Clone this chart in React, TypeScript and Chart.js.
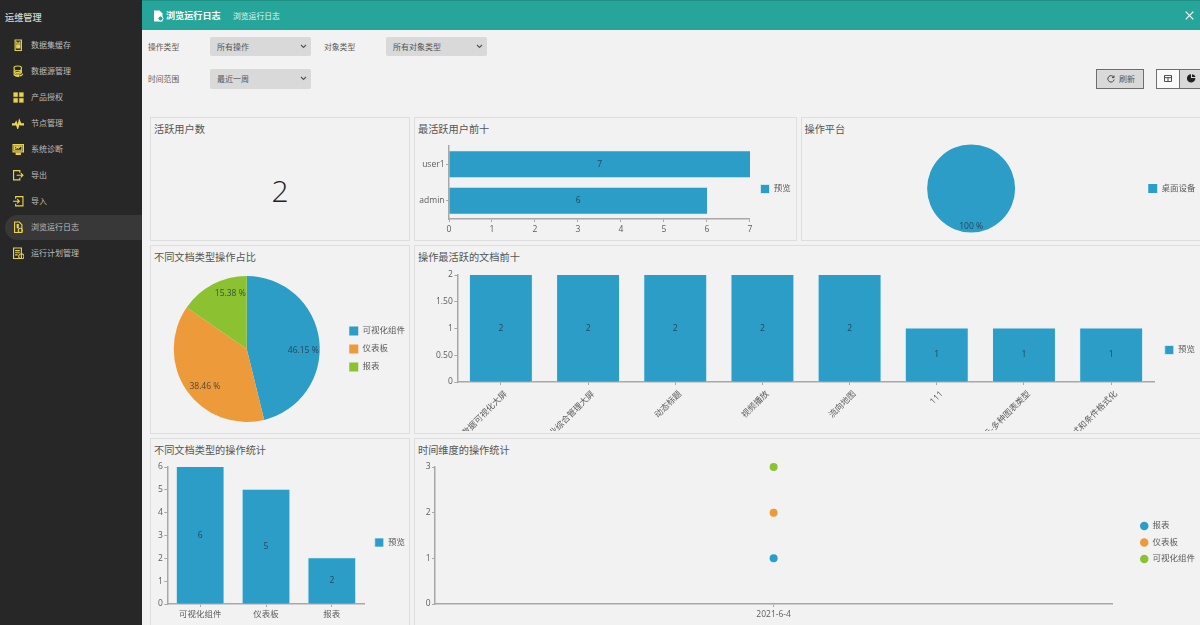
import React, { useRef, useEffect } from 'react';
import Chart from 'chart.js/auto';

const FONT = "'Open Sans','Noto Sans CJK SC',sans-serif";
const BLUE = '#2b9dc7';
const ORANGE = '#ed9a3a';
const GREEN = '#8cc232';
const TEXT = '#5c5c5c';
const AXIS = '#a8a8a8';

// 菜单
const menuItems = ['数据集缓存', '数据源管理', '产品授权', '节点管理', '系统诊断', '导出', '导入', '浏览运行日志', '运行计划管理'];
const menuIcons = [
    'M6 2h12v20H6zM9 5v3h6V5M9 11h2v2H9zM13 11h2v2h-2zM9 15h2v2H9zM13 15h2v2h-2z',
    'M4 5c0-4 14-4 14 0v3c0 4-14 4-14 0zM4 12c4 3 10 3 14 0v3c-4 3-10 3-14 0zM4 18c3 2 6 3 9 2v2c-4 0-7-1-9-3zM15 19l2 2 4-4',
    'M3 3h8v8H3zM14 3h8v8h-8zM3 14h8v8H3zM14 14h8v8h-8z',
    'M1 13h5l2-4 3 9 3-12 3 7h6v2h-7l-2-3-3 10-3-9-1 2H1z',
    'M2 3h20v14H2zM5 6v8h14V6zM7 11l3-3 2 2 3-3M8 20h8v2H8z',
    'M15 7V3H3v18h12v-4M9 12h12M17 8l4 4-4 4',
    'M7 7V3h14v18H7v-4M2 12h11M10 8l4 4-4 4',
    'M5 2h9l5 5v15H5zM10 7v2h2V7zM10 11v2h2v-2zM16 14a4 4 0 1 0 .01 0z',
    'M3 2h15v20H3zM6 7h9M6 11h9M6 15h5M18 13a5 5 0 1 0 .01 0z',
];

// 最活跃用户前十
const userNames = ['user1', 'admin'];
const userCounts = [7, 6];
// 操作平台
const platformNames = ['桌面设备'];
const platformCounts = [1];
const platformLabels = ['100 %'];
// 不同文档类型操作占比 / 操作统计
const docTypes = ['可视化组件', '仪表板', '报表'];
const docTypeCounts = [6, 5, 2];
const docTypeLabels = ['46.15 %', '38.46 %', '15.38 %'];
// 操作最活跃的文档前十
const docNames = ['大数据可视化大屏', '企业综合管理大屏', '动态标题', '视频播放', '流向地图', '111', '展示-多种图表类型', '样式和条件格式化'];
const docCounts = [2, 2, 2, 2, 2, 1, 1, 1];
// 时间维度的操作统计
const dates = ['2021-6-4'];
const reportByDay = [1];
const dashboardByDay = [2];
const widgetByDay = [3];

const tickFont = { family: FONT, size: 8.5 };

// 柱子和饼图扇区上的数值标签
const valueLabels = (labels: string[] | null, ratio = 0.78, nudge: number[][] = []) => ({
    id: 'valueLabels',
    afterDatasetsDraw(chart: any) {
        const { ctx } = chart;
        ctx.save();
        ctx.font = `8.5px ${FONT}`;
        ctx.fillStyle = 'rgba(35,50,60,0.8)';
        ctx.textAlign = 'center';
        ctx.textBaseline = 'middle';
        chart.getSortedVisibleDatasetMetas().forEach((meta: any) => {
            meta.data.forEach((el: any, i: number) => {
                const text = labels ? labels[i] : String(chart.data.datasets[meta.index].data[i]);
                if (meta.type === 'pie') {
                    const a = el.getProps(['x', 'y', 'startAngle', 'endAngle', 'outerRadius']);
                    const mid = (a.startAngle + a.endAngle) / 2;
                    const [dx, dy] = nudge[i] || [0, 0];
                    ctx.fillText(text, a.x + Math.cos(mid) * a.outerRadius * ratio + dx, a.y + Math.sin(mid) * a.outerRadius * ratio + dy);
                } else {
                    const b = el.getProps(['x', 'y', 'base']);
                    if (chart.options.indexAxis === 'y') ctx.fillText(text, (b.x + b.base) / 2, b.y);
                    else ctx.fillText(text, b.x, (b.y + b.base) / 2);
                }
            });
        });
        ctx.restore();
    },
});

// x 轴标签的裁剪区域放到画布底部，倾斜的长标签才能显示完整
const longTicks = {
    id: 'longTicks',
    afterLayout(chart: any) {
        chart.scales.x.bottom = chart.height;
    },
};

const axisBase = (size: number, isX: boolean) => ({
    grid: { drawOnChartArea: false, color: AXIS, tickLength: 3, offset: false },
    border: { color: AXIS, width: 1.5 },
    ticks: { font: tickFont, color: TEXT, padding: isX ? 2 : 1.5 },
    afterFit: (s: any) => {
        if (isX) s.height = size;
        else s.width = size;
    },
});

const legendOpts = (padding: number, extra = {}) => ({
    display: true,
    position: 'right',
    labels: { font: tickFont, color: TEXT, boxWidth: 9, boxHeight: 9, padding, ...extra },
});

const barOpts = {
    backgroundColor: BLUE,
    borderColor: 'rgba(225,240,247,0.75)',
    borderWidth: 1,
    inflateAmount: 1,
    barPercentage: 0.71,
    categoryPercentage: 1,
};

function ChartBox({ left, top, width, height, config }: any) {
    const ref = useRef<HTMLCanvasElement>(null);
    useEffect(() => {
        const chart = new Chart(ref.current!, config);
        return () => chart.destroy();
    }, []);
    return <canvas ref={ref} width={width} height={height} style={{ position: 'absolute', left, top, width, height }} />;
}

const common = { responsive: false, animation: false, devicePixelRatio: 1 };

const usersConfig: any = {
    type: 'bar',
    data: { labels: userNames, datasets: [{ label: '预览', data: userCounts, ...barOpts }] },
    options: {
        ...common,
        indexAxis: 'y',
        layout: { padding: { top: 28, bottom: 9, right: 0.25 } },
        scales: {
            x: { ...axisBase(13, true), min: 0, max: 7, ticks: { ...axisBase(13, true).ticks, stepSize: 1 } },
            y: axisBase(35, false),
        },
        plugins: { legend: legendOpts(10.5), tooltip: { enabled: false } },
    },
    plugins: [valueLabels(null)],
};

const platformConfig: any = {
    type: 'pie',
    data: { labels: platformNames, datasets: [{ data: platformCounts, backgroundColor: [BLUE], borderWidth: 0 }] },
    options: {
        ...common,
        layout: { padding: { left: 2, top: 27.5, bottom: 8.5, right: 0.5 } },
        plugins: { legend: legendOpts(8), tooltip: { enabled: false } },
    },
    plugins: [valueLabels(platformLabels, 0.86)],
};

const shareConfig: any = {
    type: 'pie',
    data: { labels: docTypes, datasets: [{ data: docTypeCounts, backgroundColor: [BLUE, ORANGE, GREEN], borderWidth: 0 }] },
    options: {
        ...common,
        layout: { padding: { left: 3.2, top: 31, bottom: 11 } },
        plugins: { legend: legendOpts(9), tooltip: { enabled: false } },
    },
    // 标签不完全在扇区角平分线上
    plugins: [valueLabels(docTypeLabels, 0.78, [[0, 8], [5, 5], [10, -5]])],
};

const docsConfig: any = {
    type: 'bar',
    data: { labels: docNames, datasets: [{ label: '预览', data: docCounts, ...barOpts }] },
    options: {
        ...common,
        layout: { padding: { top: 29, bottom: 6 } },
        scales: {
            x: {
                ...axisBase(43, true),
                ticks: { ...axisBase(43, true).ticks, padding: 4, autoSkip: false, minRotation: 45, maxRotation: 45, labelOffset: 5 },
            },
            y: {
                ...axisBase(43.3, false),
                min: 0,
                max: 2,
                ticks: { ...axisBase(43.3, false).ticks, stepSize: 0.5, callback: (v: number) => (v % 1 === 0 ? String(v) : v.toFixed(2)) },
            },
        },
        plugins: { legend: legendOpts(10), tooltip: { enabled: false } },
    },
    plugins: [valueLabels(null), longTicks],
};

const typeCountConfig: any = {
    type: 'bar',
    data: { labels: docTypes, datasets: [{ label: '预览', data: docTypeCounts, ...barOpts }] },
    options: {
        ...common,
        layout: { padding: { top: 29, bottom: 7 } },
        scales: {
            x: axisBase(14, true),
            y: { ...axisBase(17.3, false), min: 0, max: 6, ticks: { ...axisBase(17.3, false).ticks, stepSize: 1 } },
        },
        plugins: { legend: legendOpts(10), tooltip: { enabled: false } },
    },
    plugins: [valueLabels(null)],
};

const dot = (label: string, data: number[], color: string) => ({
    label,
    data,
    showLine: false,
    clip: false,
    backgroundColor: color,
    borderColor: color,
    pointRadius: 4,
    pointBorderWidth: 0,
});

const timeConfig: any = {
    type: 'line',
    data: {
        labels: dates,
        datasets: [dot('报表', reportByDay, BLUE), dot('仪表板', dashboardByDay, ORANGE), dot('可视化组件', widgetByDay, GREEN)],
    },
    options: {
        ...common,
        layout: { padding: { top: 29, bottom: 7 } },
        scales: {
            x: { ...axisBase(14, true), offset: true },
            y: { ...axisBase(21, false), min: 0, max: 3, ticks: { ...axisBase(21, false).ticks, stepSize: 1 } },
            // 撑开坐标轴和图例之间的空隙
            y2: { position: 'right', grid: { display: false }, border: { display: false }, ticks: { display: false }, afterFit: (s: any) => { s.width = 20; } },
        },
        plugins: { legend: legendOpts(8, { usePointStyle: true, boxWidth: 8, boxHeight: 6 }), tooltip: { enabled: false } },
    },
};

const abs = (left: number, top: number, extra: any = {}): any => ({ position: 'absolute', left, top, whiteSpace: 'nowrap', ...extra });

function Card({ left, top, width, height, title }: any) {
    return (
        <>
            <div style={abs(left, top, { width, height, boxSizing: 'border-box', border: '1.5px solid #dedede' })} />
            <div style={abs(left + 4, top + 6, { fontSize: 10.2, lineHeight: '13px', color: '#555' })}>{title}</div>
        </>
    );
}

function Dropdown({ left, top, width, text }: any) {
    return (
        <div style={abs(left, top, { width, height: 19.5, background: '#d9d9d9', borderRadius: 2 })}>
            <span style={abs(7, 0, { fontSize: 8, lineHeight: '19.5px', color: '#555' })}>{text}</span>
            <svg width="7" height="5" viewBox="0 0 7 5" style={abs(width - 11, 7)}>
                <path d="M1 1l2.5 2.5L6 1" fill="none" stroke="#555" strokeWidth="1.1" />
            </svg>
        </div>
    );
}

export default function App() {
    return (
        <div style={{ position: 'relative', width: 1200, height: 625, overflow: 'hidden', background: '#f2f2f2', fontFamily: FONT }}>
            <style>{'body{margin:0}'}</style>

            {/* 左侧菜单 */}
            <div style={abs(0, 0, { width: 142, height: 625, background: '#272727' })} />
            <div style={abs(5, 12, { fontSize: 9.2, lineHeight: '12px', fontWeight: 500, color: '#d6d6d6' })}>运维管理</div>
            <div style={abs(5, 214.5, { width: 137, height: 25.5, background: '#383838', borderRadius: '13px 0 0 13px' })} />
            {menuItems.map((name, i) => (
                <React.Fragment key={name}>
                    <svg width="12.5" height="12.5" viewBox="0 0 24 24" style={abs(11.5, 38.5 + i * 26)}>
                        <path d={menuIcons[i]} fill={i === 2 || i === 3 ? '#e8d44f' : 'none'} stroke="#e8d44f" strokeWidth={i === 2 ? 0.5 : 2.2} />
                    </svg>
                    <div style={abs(31, 39 + i * 26, { fontSize: 8, lineHeight: '12px', color: '#bdbdbd' })}>{name}</div>
                </React.Fragment>
            ))}

            {/* 顶部标题栏 */}
            <div style={abs(142, 0, { width: 1058, height: 30, background: '#26a69a', borderTop: '1px solid #1f8f84', boxSizing: 'border-box' })} />
            <svg width="12" height="12" viewBox="0 0 24 24" style={abs(152, 9.5)}>
                <path d="M4 1h11l6 6v16H4z" fill="#fff" />
                <circle cx="17" cy="17" r="5" fill="#26a69a" stroke="#fff" strokeWidth="2" />
            </svg>
            <div style={abs(166, 10, { fontSize: 9.1, lineHeight: '12px', fontWeight: 700, color: '#fff' })}>浏览运行日志</div>
            <div style={abs(233, 10, { fontSize: 7.8, lineHeight: '12px', color: '#e4f5f3' })}>浏览运行日志</div>
            <svg width="9" height="9" viewBox="0 0 9 9" style={abs(1185, 11)}>
                <path d="M.7.7l7.6 7.6M8.3.7L.7 8.3" stroke="#fff" strokeWidth="1.2" />
            </svg>

            {/* 筛选条件 */}
            <div style={abs(148, 41, { fontSize: 7.8, lineHeight: '12px', color: '#5c5c5c' })}>操作类型</div>
            <Dropdown left={210} top={36.5} width={101} text="所有操作" />
            <div style={abs(324, 41, { fontSize: 7.8, lineHeight: '12px', color: '#5c5c5c' })}>对象类型</div>
            <Dropdown left={386} top={36.5} width={101} text="所有对象类型" />
            <div style={abs(148, 73, { fontSize: 7.8, lineHeight: '12px', color: '#5c5c5c' })}>时间范围</div>
            <Dropdown left={210} top={69} width={101} text="最近一周" />

            {/* 刷新和视图切换 */}
            <div style={abs(1096, 69, { width: 48, height: 20, boxSizing: 'border-box', background: '#d9d9d9', border: '1px solid #6e6e6e' })}>
                <span style={abs(22, 0, { fontSize: 8, lineHeight: '18px', color: '#555' })}>刷新</span>
                <svg width="8" height="8" viewBox="0 0 8 8" style={abs(9.5, 5)}>
                    <path d="M6.8 2.2A3.2 3.2 0 1 0 7.2 4.5M7 .6v2H5" fill="none" stroke="#444" strokeWidth="1" />
                </svg>
            </div>
            <div style={abs(1156, 69, { width: 46, height: 20, boxSizing: 'border-box', background: '#d9d9d9', border: '1px solid #6e6e6e' })}>
                <div style={abs(0, 0, { width: 22, height: 18, background: '#fafafa', borderRight: '1px solid #6e6e6e' })} />
                <svg width="8" height="7" viewBox="0 0 9 8" style={abs(7, 4.5)}>
                    <path d="M.5.5h8v7h-8zM.5 3h8M4.5 3v4.5" fill="none" stroke="#333" strokeWidth="1" />
                </svg>
                <svg width="9" height="9" viewBox="0 0 9 9" style={abs(29.5, 4)}>
                    <path d="M4 .2V4h4.3A4.2 4.2 0 1 1 4 .2zM5 .2A4 4 0 0 1 8.6 3H5z" fill="#222" />
                </svg>
            </div>

            {/* 面板 */}
            <Card left={150} top={116.5} width={260} height={124.5} title="活跃用户数" />
            <Card left={414} top={116.5} width={383} height={124.5} title="最活跃用户前十" />
            <Card left={800.5} top={116.5} width={410} height={124.5} title="操作平台" />
            <Card left={150} top={245} width={260} height={188.5} title="不同文档类型操作占比" />
            <Card left={414} top={245} width={800} height={188.5} title="操作最活跃的文档前十" />
            <Card left={150} top={437.5} width={260} height={200} title="不同文档类型的操作统计" />
            <Card left={414} top={437.5} width={800} height={200} title="时间维度的操作统计" />

            <div style={abs(150, 172, { width: 260, textAlign: 'center', fontSize: 30, lineHeight: '38px', fontWeight: 300, color: '#222' })}>2</div>

            <ChartBox left={414} top={118} width={387} height={123} config={usersConfig} />
            <ChartBox left={800} top={117} width={406} height={124} config={platformConfig} />
            <ChartBox left={150} top={245} width={265} height={188} config={shareConfig} />
            <ChartBox left={414} top={246} width={791} height={185} config={docsConfig} />
            <ChartBox left={150} top={438} width={265} height={187} config={typeCountConfig} />
            <ChartBox left={414} top={438} width={791} height={187} config={timeConfig} />
        </div>
    );
}
